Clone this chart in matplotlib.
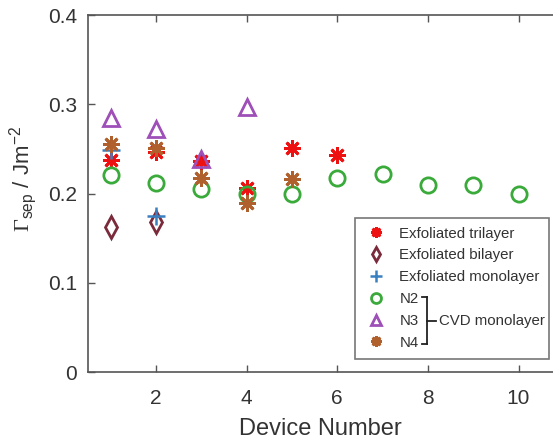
import matplotlib
matplotlib.use('Agg')
import matplotlib.pyplot as plt

plt.rcParams['font.family'] = 'Liberation Sans'
plt.rcParams['mathtext.fontset'] = 'custom'
plt.rcParams['mathtext.rm'] = 'Liberation Serif'
plt.rcParams['mathtext.sf'] = 'Liberation Sans'

# data
tri_x = [1, 2, 3, 4, 5, 6]
tri_y = [0.238, 0.247, 0.237, 0.206, 0.251, 0.243]
bi_x = [1, 2]
bi_y = [0.163, 0.168]
mono_x = [1, 2]
mono_y = [0.249, 0.175]
n2_x = [1, 2, 3, 4, 5, 6, 7, 8, 9, 10]
n2_y = [0.221, 0.212, 0.205, 0.200, 0.199, 0.217, 0.222, 0.210, 0.210, 0.200]
n3_x = [1, 2, 3, 4]
n3_y = [0.285, 0.272, 0.239, 0.297]
n4_x = [1, 2, 3, 4, 5]
n4_y = [0.256, 0.251, 0.217, 0.189, 0.216]

txt = '#333333'
ax_col = '#555555'

fig = plt.figure(figsize=(5.53, 4.42), dpi=100)
ax = fig.add_axes([0.159, 0.158, 0.841, 0.808])

star = (8, 2, 0)
ax.plot(tri_x, tri_y, ls='none', marker=star, ms=12, mew=2, color='#ee1111', label='Exfoliated trilayer')
ax.plot(bi_x, bi_y, ls='none', marker='d', ms=11, mew=2, mfc='none', color='#7a2a3a', label='Exfoliated bilayer')
ax.plot(mono_x, mono_y, ls='none', marker='+', ms=13, mew=1.8, color='#3a80c0', label='Exfoliated monolayer')
ax.plot(n2_x, n2_y, ls='none', marker='o', ms=11, mew=2, mfc='none', color='#3aaa3a', label='N2')
ax.plot(n3_x, n3_y, ls='none', marker='^', ms=12, mew=2, mfc='none', color='#9e4fb8', label='N3')
ax.plot(n4_x, n4_y, ls='none', marker=star, ms=12, mew=2, color='#b0602d', label='N4')

ax.set_xlim(0.5, 10.76)
ax.set_ylim(0, 0.4)
ax.set_xticks([2, 4, 6, 8, 10])
ax.set_yticks([0, 0.1, 0.2, 0.3, 0.4])
ax.set_yticklabels(['0', '0.1', '0.2', '0.3', '0.4'])
ax.tick_params(direction='in', length=5, width=1, color=ax_col, labelcolor=txt,
               labelsize=15, top=True)
ax.tick_params(axis='x', pad=12)
ax.tick_params(axis='y', pad=8)
for s in ['left', 'bottom', 'top']:
    ax.spines[s].set_color(ax_col)
    ax.spines[s].set_linewidth(1.2)
ax.spines['right'].set_visible(False)

ax.set_xlabel('Device Number', fontsize=17, color=txt, labelpad=7)
ax.set_ylabel(r'$\Gamma_{\mathsf{sep}}$ / Jm$^{\mathsf{-2}}$', fontsize=16, color=txt, labelpad=6)
ax.yaxis.label.set_y(0.542)

leg = ax.legend(loc='lower right', bbox_to_anchor=(0.991, 0.038), borderaxespad=0,
                fontsize=10.8, frameon=True, fancybox=False, edgecolor=ax_col,
                handlelength=1.6, handletextpad=0.75, labelspacing=0.52,
                borderpad=0.6, markerscale=0.65)
leg.get_frame().set_linewidth(1.2)
for t in leg.get_texts():
    t.set_color(txt)

# bracket grouping N2-N4
fig.canvas.draw()
inv = fig.transFigure.inverted()
texts = leg.get_texts()
bb2 = texts[3].get_window_extent()
bb3 = texts[4].get_window_extent()
bb4 = texts[5].get_window_extent()
xb = max(bb2.x1, bb3.x1, bb4.x1) + 8
y2 = (bb2.y0 + bb2.y1) / 2 + 2
y3 = (bb3.y0 + bb3.y1) / 2
y4 = (bb4.y0 + bb4.y1) / 2 - 1
def fp(x, y):
    return inv.transform((x, y))
for (xa, ya, xc, yc) in [(bb2.x1 + 3, y2, xb, y2), (bb4.x1 + 3, y4, xb, y4),
                         (xb, y2, xb, y4), (xb, y3, xb + 9, y3)]:
    p0 = fp(xa, ya)
    p1 = fp(xc, yc)
    fig.add_artist(plt.Line2D([p0[0], p1[0]], [p0[1], p1[1]], color='#222222', lw=1.3))
pt = fp(xb + 12, y3)
fig.text(pt[0], pt[1], 'CVD monolayer', fontsize=10.8, color=txt, va='center', ha='left')

fig.savefig('out.png', dpi=100)
